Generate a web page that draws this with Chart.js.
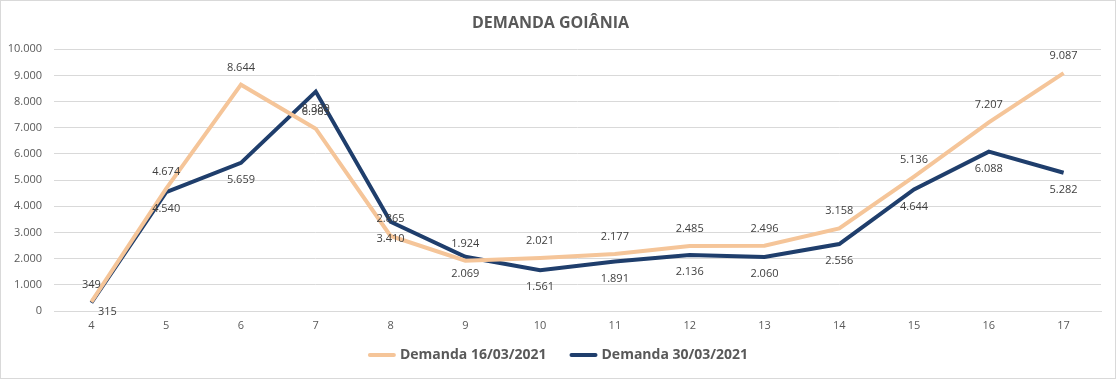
<!DOCTYPE html>
<html>
<head>
<meta charset="utf-8">
<script src="https://cdn.jsdelivr.net/npm/chart.js@4/dist/chart.umd.min.js"></script>
<style>
html,body{margin:0;padding:0;background:#fff;}
#wrap{width:1116px;height:379px;position:relative;}
</style>
</head>
<body>
<div id="wrap"><canvas id="c" width="1116" height="379"></canvas></div>
<script>
const categories = ['4','5','6','7','8','9','10','11','12','13','14','15','16','17'];
const demanda1603 = [349, 4674, 8644, 6965, 2865, 1924, 2021, 2177, 2485, 2496, 3158, 5136, 7207, 9087];
const demanda3003 = [315, 4540, 5659, 8380, 3410, 2069, 1561, 1891, 2136, 2060, 2556, 4644, 6088, 5282];
const seriesNames = ['Demanda 16/03/2021', 'Demanda 30/03/2021'];
const yTicks = [0,1000,2000,3000,4000,5000,6000,7000,8000,9000,10000];

const fmt = v => v.toString().replace(/\B(?=(\d{3})+(?!\d))/g, '.');
const TXT = '#595959';
const FONT = "'Open Sans', 'Liberation Sans', sans-serif";

const labelPlugin = {
  id: 'pointLabels',
  afterDatasetsDraw(chart) {
    const ctx = chart.ctx;
    ctx.save();
    ctx.font = '11px ' + FONT;
    ctx.fillStyle = '#404040';
    ctx.textAlign = 'center';
    ctx.textBaseline = 'middle';
    chart.data.datasets.forEach((ds, di) => {
      const meta = chart.getDatasetMeta(di);
      meta.data.forEach((pt, i) => {
        const dy = di === 0 ? -17 : 17;
        let x = pt.x, y = pt.y + dy;
        if (y > chart.chartArea.bottom - 6) { y = chart.chartArea.bottom + 1; x += 16; }
        ctx.fillText(fmt(ds.data[i]), x, y);
      });
    });
    ctx.restore();
  }
};
const legendPlugin = {
  id: 'customLegend',
  afterDraw(chart) {
    const ctx = chart.ctx;
    ctx.save();
    ctx.font = 'bold 14px ' + FONT;
    ctx.textBaseline = 'middle';
    ctx.textAlign = 'left';
    const y = 355, sym = 28, gapSym = 4, gapItem = 23;
    const items = chart.data.datasets.map(d => ({ text: d.label, color: d.borderColor, w: ctx.measureText(d.label).width }));
    const total = items.reduce((a, it) => a + sym + gapSym + it.w, 0) + gapItem * (items.length - 1);
    let x = (chart.width - total) / 2;
    items.forEach(it => {
      ctx.strokeStyle = it.color;
      ctx.lineWidth = 4;
      ctx.lineCap = 'round';
      ctx.beginPath();
      ctx.moveTo(x + 2, y);
      ctx.lineTo(x + sym - 2, y);
      ctx.stroke();
      ctx.fillStyle = TXT;
      ctx.fillText(it.text, x + sym + gapSym, y);
      x += sym + gapSym + it.w + gapItem;
    });
    ctx.strokeStyle = '#d9d9d9';
    ctx.lineWidth = 1;
    ctx.strokeRect(0.5, 0.5, chart.width - 1, chart.height - 1);
    ctx.restore();
  }
};

new Chart(document.getElementById('c'), {
  type: 'line',
  data: {
    labels: categories,
    datasets: [
      { label: seriesNames[0], data: demanda1603, borderColor: '#F5C599', backgroundColor: '#F5C599', borderWidth: 4, pointRadius: 0, tension: 0, fill: false },
      { label: seriesNames[1], data: demanda3003, borderColor: '#1F3E6C', backgroundColor: '#1F3E6C', borderWidth: 4, pointRadius: 0, tension: 0, fill: false }
    ]
  },
  options: {
    responsive: false,
    animation: false,
    devicePixelRatio: 1,
    layout: { padding: { left: 0, right: 15, top: 0, bottom: 44 } },
    plugins: {
      title: {
        display: true,
        text: 'DEMANDA GOIÂNIA',
        color: TXT,
        font: { family: FONT, size: 16, weight: 'bold' },
        padding: { top: 14, bottom: 16 }
      },
      legend: { display: false },
      tooltip: { enabled: false }
    },
    scales: {
      x: {
        offset: true,
        grid: { display: false, drawTicks: false },
        border: { display: true, color: '#d9d9d9' },
        ticks: { color: TXT, font: { family: FONT, size: 11 }, padding: 8, maxRotation: 0 },
        afterFit: s => { s.height = 24; }
      },
      y: {
        min: 0, max: 10000,
        afterBuildTicks: s => { s.ticks = yTicks.map(v => ({ value: v })); },
        afterFit: s => { s.width = 54; },
        grid: { color: '#d9d9d9', drawTicks: false },
        border: { display: false },
        ticks: { color: TXT, font: { family: FONT, size: 11 }, padding: 12, callback: v => fmt(v) }
      }
    }
  },
  plugins: [labelPlugin, legendPlugin]
});
</script>
</body>
</html>
